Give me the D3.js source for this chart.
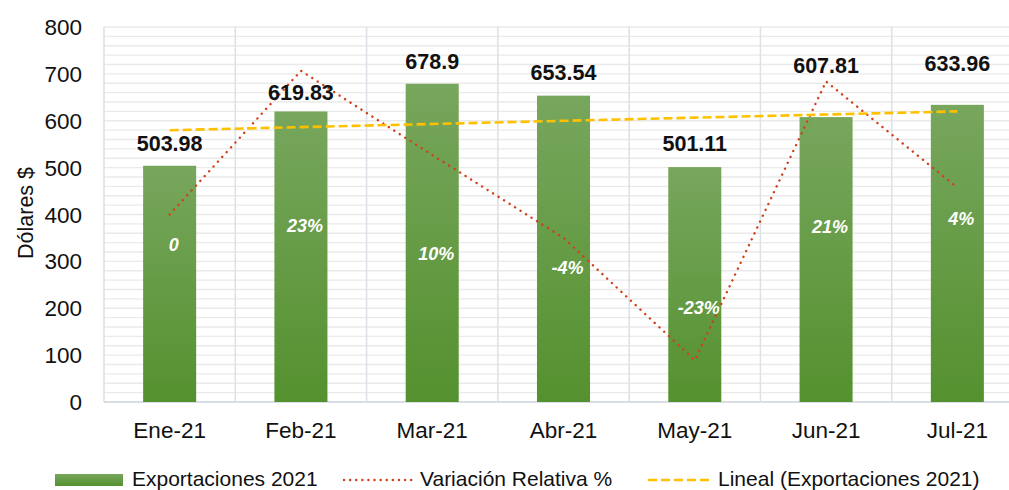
<!DOCTYPE html>
<html>
<head>
<meta charset="utf-8">
<script src="https://cdn.jsdelivr.net/npm/d3@7"></script>
<style>
  body { margin: 0; background: #fff; }
  svg text { font-family: "Liberation Sans", Arial, sans-serif; }
</style>
</head>
<body>
<svg id="chart" width="1009" height="490"></svg>
<script>
// data
var months = ["Ene-21", "Feb-21", "Mar-21", "Abr-21", "May-21", "Jun-21", "Jul-21"];
var exportaciones = [503.98, 619.83, 678.9, 653.54, 501.11, 607.81, 633.96];
var variacion = [0, 0.2299, 0.0953, -0.0374, -0.2332, 0.2129, 0.0430];
var variacionLabels = ["0", "23%", "10%", "-4%", "-23%", "21%", "4%"];
var yTicks = [0, 100, 200, 300, 400, 500, 600, 700, 800];

// label tweaks (px), Excel nudged some of them around
var valueLift = [15, 11, 15, 16, 16, 44, 34];
var pctShift = [36, 161, 105, 36, -46, 152, 37];

var svg = d3.select("#chart");
var pL = 104, pR = 1023, pT = 27, pB = 402;

var x = d3.scaleBand().domain(months).range([pL, pR]).padding(0);
var y = d3.scaleLinear().domain([0, 800]).range([pB, pT]);
var y2 = d3.scaleLinear().domain([-0.3, 0.3]).range([pB, pT]);
var barW = x.bandwidth() * 0.404;
var cx = function(m) { return x(m) + x.bandwidth() / 2; };

// gradient for bars
var grad = svg.append("defs").append("linearGradient")
    .attr("id", "barGrad").attr("x1", 0).attr("y1", 0).attr("x2", 0).attr("y2", 1);
grad.append("stop").attr("offset", "0%").attr("stop-color", "#77a65d");
grad.append("stop").attr("offset", "100%").attr("stop-color", "#55912f");

// horizontal grid, every 20
svg.append("g").selectAll("line")
  .data(d3.range(20, 801, 20))
  .enter().append("line")
    .attr("x1", pL).attr("x2", pR)
    .attr("y1", function(d) { return y(d); }).attr("y2", function(d) { return y(d); })
    .attr("stroke", "#eaeaea").attr("stroke-width", 1.4);

// vertical grid at category boundaries
svg.append("g").selectAll("line")
  .data(months)
  .enter().append("line")
    .attr("x1", function(d) { return x(d); }).attr("x2", function(d) { return x(d); })
    .attr("y1", pT).attr("y2", pB)
    .attr("stroke", "#dde1e8").attr("stroke-width", 1.6);

// baseline
svg.append("line")
    .attr("x1", pL).attr("x2", pR).attr("y1", y(0)).attr("y2", y(0))
    .attr("stroke", "#d9dde4").attr("stroke-width", 2);

// y axis labels
svg.append("g").selectAll("text")
  .data(yTicks)
  .enter().append("text")
    .attr("x", 82).attr("y", function(d) { return y(d); })
    .attr("dy", "0.36em")
    .attr("text-anchor", "end")
    .attr("font-size", 22.5).attr("fill", "#111")
    .text(function(d) { return d; });

svg.append("text")
    .attr("transform", "translate(33,213) rotate(-90)")
    .attr("text-anchor", "middle")
    .attr("font-size", 21.5).attr("fill", "#111")
    .text("Dólares $");

// x labels
svg.append("g").selectAll("text")
  .data(months)
  .enter().append("text")
    .attr("x", function(d) { return cx(d); }).attr("y", 438)
    .attr("text-anchor", "middle")
    .attr("font-size", 22.5).attr("fill", "#111")
    .text(function(d) { return d; });

// bars
svg.append("g").selectAll("rect")
  .data(exportaciones)
  .enter().append("rect")
    .attr("x", function(d, i) { return cx(months[i]) - barW / 2; })
    .attr("width", barW)
    .attr("y", function(d) { return y(d); })
    .attr("height", function(d) { return y(0) - y(d); })
    .attr("fill", "url(#barGrad)");

// variation line (secondary axis)
var varLine = d3.line()
    .x(function(d, i) { return cx(months[i]); })
    .y(function(d) { return y2(d); });
svg.append("path")
    .datum(variacion)
    .attr("d", varLine)
    .attr("fill", "none")
    .attr("stroke", "#d2401a").attr("stroke-width", 2.4)
    .attr("stroke-linecap", "round")
    .attr("stroke-dasharray", "0.1,6.4");

// linear trendline of exports
var n = exportaciones.length;
var mx = (n + 1) / 2, my = d3.mean(exportaciones);
var slope = d3.sum(exportaciones, function(v, i) { return (i + 1 - mx) * (v - my); }) /
            d3.sum(exportaciones, function(v, i) { return (i + 1 - mx) * (i + 1 - mx); });
var trend = exportaciones.map(function(v, i) { return my + slope * (i + 1 - mx); });
svg.append("path")
    .datum(trend)
    .attr("d", d3.line()
        .x(function(d, i) { return cx(months[i]); })
        .y(function(d) { return y(d); }))
    .attr("fill", "none")
    .attr("stroke", "#ffc000").attr("stroke-width", 2.6)
    .attr("stroke-dasharray", "9,4");

// value labels
svg.append("g").selectAll("text")
  .data(exportaciones)
  .enter().append("text")
    .attr("x", function(d, i) { return cx(months[i]); })
    .attr("y", function(d, i) { return y(d) - valueLift[i]; })
    .attr("text-anchor", "middle")
    .attr("font-size", 21.5).attr("font-weight", "bold").attr("fill", "#111")
    .text(function(d) { return d; });

// percent labels
svg.append("g").selectAll("text")
  .data(variacion)
  .enter().append("text")
    .attr("x", function(d, i) { return cx(months[i]) + 4; })
    .attr("y", function(d, i) { return y2(d) + pctShift[i]; })
    .attr("text-anchor", "middle")
    .attr("font-size", 18).attr("font-weight", "bold").attr("font-style", "italic")
    .attr("fill", "#fff")
    .text(function(d, i) { return variacionLabels[i]; });

// legend
var lg = svg.append("g").attr("font-size", 21).attr("fill", "#111");
lg.append("rect").attr("x", 55).attr("y", 474).attr("width", 68).attr("height", 12).attr("fill", "url(#barGrad)");
lg.append("text").attr("x", 132).attr("y", 486).text("Exportaciones 2021");
lg.append("line").attr("x1", 344).attr("x2", 412).attr("y1", 480).attr("y2", 480)
    .attr("stroke", "#d2401a").attr("stroke-width", 2.4)
    .attr("stroke-linecap", "round").attr("stroke-dasharray", "0.1,6");
lg.append("text").attr("x", 420).attr("y", 486).text("Variación Relativa %");
lg.append("line").attr("x1", 648).attr("x2", 711).attr("y1", 480).attr("y2", 480)
    .attr("stroke", "#ffc000").attr("stroke-width", 2.6).attr("stroke-dasharray", "9,4");
lg.append("text").attr("x", 718).attr("y", 486).text("Lineal (Exportaciones 2021)");
</script>
</body>
</html>
